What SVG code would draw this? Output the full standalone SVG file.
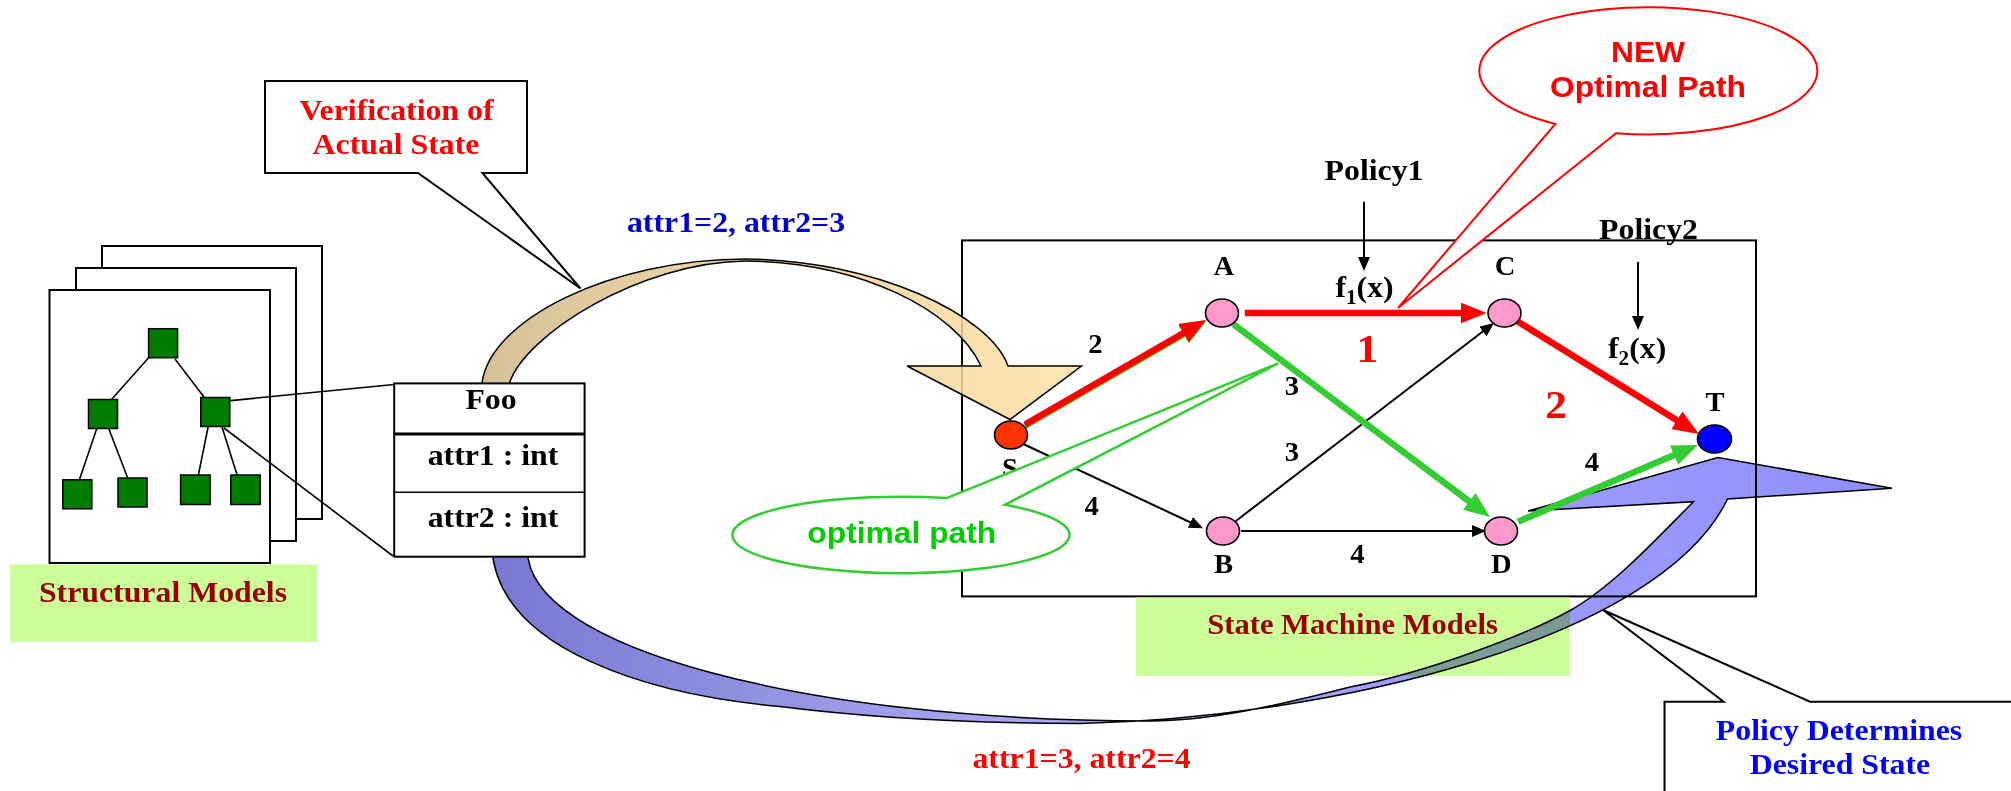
<svg xmlns="http://www.w3.org/2000/svg" width="2011" height="791" viewBox="0 0 2011 791">
  <style>
    .box { fill: #fff; stroke: #000; stroke-width: 2; }
    .page { fill: #fff; stroke: #000; stroke-width: 2; }
    .leaf { fill: #007d00; stroke: #000; stroke-width: 1.5; }
    .thin { stroke: #000; stroke-width: 1.6; fill: none; }
    .label-bg { fill: #ccff99; }
    .serif { font-family: "Liberation Serif", "Times New Roman", serif; font-weight: bold; font-size: 30px; text-anchor: middle; }
    .sans { font-family: "Liberation Sans", Arial, sans-serif; font-weight: bold; font-size: 30px; text-anchor: middle; }
    .small { font-size: 27px; }
    .big { font-size: 41px; fill: #ff0000; }
    .edge-red { stroke: #ff0000; stroke-width: 6.5; fill: none; marker-end: url(#arrRed); }
    .edge-green { stroke: #33cc33; stroke-width: 6.5; fill: none; marker-end: url(#arrGreen); }
    .edge-black { stroke: #000; stroke-width: 2; fill: none; marker-end: url(#arrBlack); }
    .node { fill: #ff99cc; stroke: #000; stroke-width: 1.6; }
  </style>
  <defs>
    <marker id="arrRed" markerUnits="userSpaceOnUse" markerWidth="26" markerHeight="21" refX="18" refY="10.5" orient="auto">
      <path d="M0,0 L26,10.5 L0,21 Z" fill="#ff0000"/>
    </marker>
    <marker id="arrGreen" markerUnits="userSpaceOnUse" markerWidth="26" markerHeight="21" refX="18" refY="10.5" orient="auto">
      <path d="M0,0 L26,10.5 L0,21 Z" fill="#33cc33"/>
    </marker>
    <marker id="arrBlack" markerUnits="userSpaceOnUse" markerWidth="14" markerHeight="12" refX="11" refY="6" orient="auto">
      <path d="M0,0 L14,6 L0,12 Z" fill="#000"/>
    </marker>
    <linearGradient id="tanGrad" gradientUnits="userSpaceOnUse" x1="482" y1="0" x2="1081" y2="0">
      <stop offset="0" stop-color="#cfb686"/>
      <stop offset="0.5" stop-color="#efd39c"/>
      <stop offset="1" stop-color="#ffe0a6"/>
    </linearGradient>
    <linearGradient id="blueGrad" gradientUnits="userSpaceOnUse" x1="492" y1="0" x2="1892" y2="0">
      <stop offset="0" stop-color="#7878d2"/>
      <stop offset="0.35" stop-color="#a6a6ee"/>
      <stop offset="0.6" stop-color="#a0a0f8"/>
      <stop offset="1" stop-color="#9090ff"/>
    </linearGradient>
  </defs>

  <!-- callout: verification of actual state -->
  <g id="verification-callout">
    <path class="box" d="M265,81 H527 V173 H482.4 L580.5,288.5 L418,173 H265 Z"/>
    <text class="serif" fill="#ff0000" transform="translate(396.5,120) scale(1.06,1)">Verification of</text>
    <text class="serif" fill="#ff0000" transform="translate(396,154) scale(1.06,1)">Actual State</text>
  </g>

  <!-- stacked structural model pages with a class tree -->
  <g id="structural-models">
    <rect class="page" x="102" y="246" width="220" height="273"/>
    <rect class="page" x="76" y="268" width="220" height="273"/>
    <rect class="page" x="49.5" y="290" width="220.5" height="273"/>
    <g class="thin">
      <line x1="148.6" y1="357.7" x2="111.5" y2="399.5"/>
      <line x1="175" y1="359" x2="204.7" y2="398"/>
      <line x1="96.8" y1="428.5" x2="79.4" y2="479.8"/>
      <line x1="108.7" y1="428.5" x2="127.7" y2="478"/>
      <line x1="208.3" y1="426" x2="198.4" y2="474.8"/>
      <line x1="221.7" y1="426" x2="237" y2="474.8"/>
    </g>
    <rect class="leaf" x="148.6" y="328.7" width="29" height="29"/>
    <rect class="leaf" x="88.5" y="399.5" width="29" height="29"/>
    <rect class="leaf" x="200.8" y="397.5" width="29" height="29"/>
    <rect class="leaf" x="62.8" y="479.8" width="29" height="29"/>
    <rect class="leaf" x="118" y="478" width="29" height="29"/>
    <rect class="leaf" x="180.6" y="475" width="29.5" height="29.5"/>
    <rect class="leaf" x="230.8" y="475" width="29.5" height="29.5"/>
    <rect class="label-bg" x="10" y="564.4" width="307.4" height="77.3"/>
    <text class="serif" fill="#990000" transform="translate(163,601.5) scale(1.06,1)">Structural Models</text>
  </g>

  <!-- state machine frame -->
  <g id="state-machine-frame">
    <rect x="962" y="240.4" width="794" height="356" fill="none" stroke="#000" stroke-width="2"/>
    <rect class="label-bg" x="1136" y="597.5" width="434" height="78.5"/>
    <text class="serif" fill="#990000" transform="translate(1352.5,634) scale(1.02,1)">State Machine Models</text>
  </g>

  <!-- big curved flow arrows between the models -->
  <g id="flows">
    <path id="flow-verify" d="M482,390 L482,383 C490,320 610,259 746,259 C875,260 990,315 1008,366 L1081.5,366 L1010,419.5 L907,366 L981,366 C955,310 860,262 746,261 C640,262 525,335 509.5,383 L509.5,390 Z" fill="url(#tanGrad)" fill-opacity="0.86" stroke="#000" stroke-width="1.5" stroke-linejoin="miter"/>
    <path id="flow-policy" d="M492,550 C500,650 650,695 780,706.5 C880,719 980,723.5 1080,723.5 C1330,718 1660,640 1727.5,499 L1892,488.3 L1718,457.5 L1528,511 L1693.5,501.7 C1660,535 1615,585 1571,610 C1530,633 1430,672 1350,687 C1280,705 1210,721 1150,721 C806,721 527,648 527.5,550 Z" fill="url(#blueGrad)" stroke="#000" stroke-width="1.5" style="mix-blend-mode: multiply"/>
  </g>

  <!-- class Foo and its link to the tree -->
  <g id="foo-class">
    <line x1="230.8" y1="400.6" x2="394" y2="384.5" stroke="#000" stroke-width="1.6"/>
    <line x1="224" y1="428" x2="393" y2="556" stroke="#000" stroke-width="1.6"/>
    <rect class="box" x="394.2" y="383.4" width="190.4" height="173.3"/>
    <line x1="394.2" y1="434" x2="584.6" y2="434" stroke="#000" stroke-width="3.2"/>
    <line x1="394.2" y1="492.3" x2="584.6" y2="492.3" stroke="#000" stroke-width="1.6"/>
    <text class="serif" transform="translate(491,409) scale(1.06,1)">Foo</text>
    <text class="serif" transform="translate(493,465) scale(1.06,1)">attr1 : int</text>
    <text class="serif" transform="translate(493,526.7) scale(1.06,1)">attr2 : int</text>
  </g>

  <!-- state graph edges and policy inputs -->
  <g id="connectors">
    <path class="edge-black" d="M1023.3,444 L1200.3,527"/>
    <path class="edge-black" d="M1234.6,522 L1491.6,324.8"/>
    <path class="edge-black" d="M1241,531 L1483,531"/>
    <path class="edge-green" d="M1025,426 L1199.1,325.5"/>
    <path class="edge-green" d="M1233.4,324.2 L1483.6,512.2"/>
    <path class="edge-green" d="M1518,521.7 L1690.6,448.1"/>
    <path class="edge-red" d="M1025,424.5 L1199.1,324"/>
    <path class="edge-red" d="M1244.8,313 L1478.6,313"/>
    <path class="edge-red" d="M1517,321 L1692.2,429.8"/>
    <path class="edge-black" d="M1364,201.7 L1364,268"/>
    <path class="edge-black" d="M1638,262 L1638,327"/>
  </g>

  <!-- states -->
  <g id="node-S">
    <ellipse cx="1011" cy="435" rx="16.5" ry="14" fill="#ff3300" stroke="#000" stroke-width="1.6"/>
    <text class="serif small" transform="translate(1010,477) scale(1.06,1)">S</text>
  </g>
  <g id="node-A">
    <ellipse class="node" cx="1222" cy="313" rx="16.5" ry="14"/>
    <text class="serif small" transform="translate(1223.8,275) scale(1.06,1)">A</text>
  </g>
  <g id="node-C">
    <ellipse class="node" cx="1504.5" cy="313" rx="16.5" ry="14"/>
    <text class="serif small" transform="translate(1505,275) scale(1.06,1)">C</text>
  </g>
  <g id="node-B">
    <ellipse class="node" cx="1223" cy="531" rx="16.5" ry="14"/>
    <text class="serif small" transform="translate(1223.5,573.3) scale(1.06,1)">B</text>
  </g>
  <g id="node-D">
    <ellipse class="node" cx="1501" cy="531" rx="16.5" ry="14"/>
    <text class="serif small" transform="translate(1501.3,573) scale(1.06,1)">D</text>
  </g>
  <g id="node-T">
    <ellipse cx="1714.5" cy="439" rx="17" ry="14" fill="#0000ff" stroke="#000" stroke-width="1.6"/>
    <text class="serif small" transform="translate(1715,411) scale(1.06,1)">T</text>
  </g>

  <!-- edge weights, policies and costs -->
  <g id="edge-labels">
    <text class="serif small" transform="translate(1095.5,352.7) scale(1.06,1)">2</text>
    <text class="serif small" transform="translate(1292,395) scale(1.06,1)">3</text>
    <text class="serif small" transform="translate(1292,461) scale(1.06,1)">3</text>
    <text class="serif small" transform="translate(1091.7,515) scale(1.06,1)">4</text>
    <text class="serif small" transform="translate(1357.4,562.7) scale(1.06,1)">4</text>
    <text class="serif small" transform="translate(1592,470.7) scale(1.06,1)">4</text>
    <text class="serif big" transform="translate(1367.3,362) scale(1.06,1)">1</text>
    <text class="serif big" transform="translate(1556,417.5) scale(1.06,1)">2</text>
  </g>
  <g id="policy1">
    <text class="serif" transform="translate(1374,180) scale(1.06,1)">Policy1</text>
    <text class="serif" style="text-anchor:start" transform="translate(1335.4,296.6) scale(1.06,1)">f<tspan font-size="20" dy="7">1</tspan><tspan dy="-7">(x)</tspan></text>
  </g>
  <g id="policy2">
    <text class="serif" transform="translate(1648.5,239) scale(1.06,1)">Policy2</text>
    <text class="serif" style="text-anchor:start" transform="translate(1608,357.8) scale(1.06,1)">f<tspan font-size="20" dy="7">2</tspan><tspan dy="-7">(x)</tspan></text>
  </g>

  <!-- callout: optimal path -->
  <g id="optimal-path-callout">
    <path d="M946.8,498.1 A168.5,38.3 0 1 0 1004.8,504.8 L1278,363.5 Z" fill="#fff" stroke="#33cc33" stroke-width="2.5" stroke-linejoin="miter"/>
    <text class="sans" fill="#00cc00" transform="translate(901.8,543) scale(1.06,1)">optimal path</text>
  </g>

  <!-- callout: new optimal path -->
  <g id="new-path-callout">
    <path d="M1616,133.2 A169,63.6 0 1 0 1555.4,123.9 L1398,308 Z" fill="#fff" stroke="#ff0000" stroke-width="2" stroke-linejoin="miter"/>
    <text class="sans" fill="#ff0000" transform="translate(1648,62) scale(1.06,1)">NEW</text>
    <text class="sans" fill="#ff0000" transform="translate(1648,97) scale(1.06,1)">Optimal Path</text>
  </g>

  <!-- callout: policy determines desired state -->
  <g id="policy-callout">
    <path class="box" d="M1664.5,800 V701.7 H1723.7 L1603,610 L1810,701.7 H2020 V800 Z"/>
    <text class="serif" fill="#0000ff" transform="translate(1839,740) scale(1.06,1)">Policy Determines</text>
    <text class="serif" fill="#0000ff" transform="translate(1840,773.5) scale(1.06,1)">Desired State</text>
  </g>

  <!-- attribute values carried by the flows -->
  <g id="flow-labels">
    <text class="serif" fill="#0000cc" transform="translate(736,232.3) scale(1.06,1)">attr1=2, attr2=3</text>
    <text class="serif" fill="#ff0000" transform="translate(1081.5,768) scale(1.06,1)">attr1=3, attr2=4</text>
  </g>
</svg>
